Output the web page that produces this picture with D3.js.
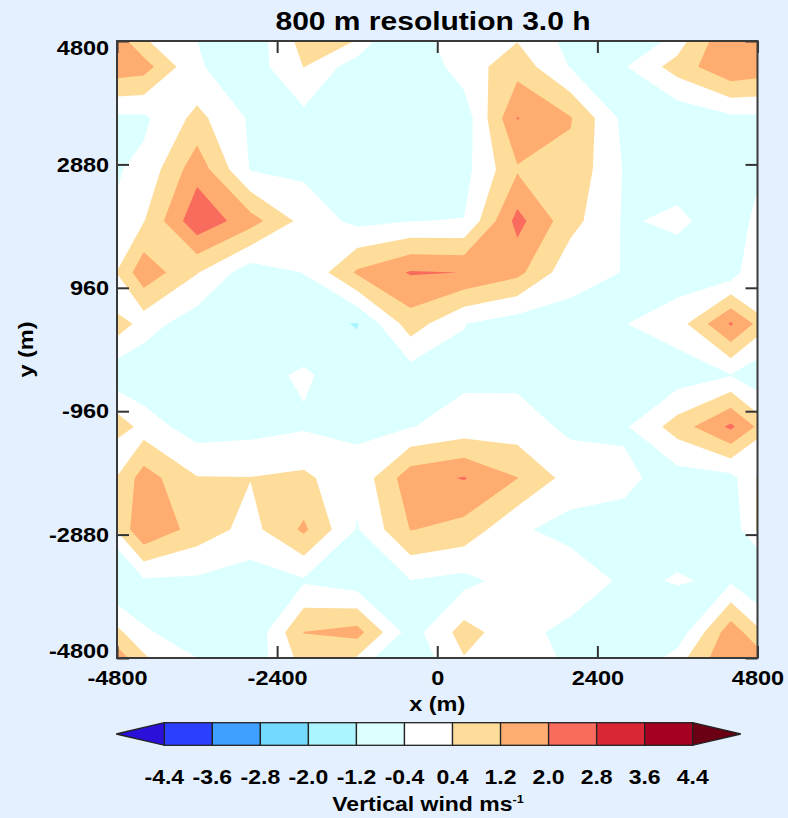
<!DOCTYPE html>
<html>
<head>
<meta charset="utf-8">
<script src="https://cdn.jsdelivr.net/npm/d3@7"></script>
<style>
  html, body { margin: 0; padding: 0; background: #e4f0fd; }
  svg { display: block; }
  text { font-family: "Liberation Sans", Arial, Helvetica, sans-serif; font-weight: bold; fill: #000; }
</style>
</head>
<body>
<svg id="chart" width="788" height="818"></svg>
<script>
// Grid-cell centres (m) of the 800 m model grid
const xCentres = [-4400, -3600, -2800, -2000, -1200, -400, 400, 1200, 2000, 2800, 3600, 4400];
const yCentres = [4400, 3600, 2800, 2000, 1200, 400, -400, -1200, -2000, -2800, -3600, -4400];

// Vertical wind (m s-1), one row per yCentres entry, one column per xCentres entry
const windRows = [
  [ 1.56, -0.32, -0.85,  0.42, -0.85, -1.14,  0.00,  0.87, -0.45, -0.47,  0.76,  1.89],
  [-0.55,  0.64, -0.51, -0.63, -0.95, -1.05, -0.88,  2.03,  1.25, -0.62, -1.00, -0.57],
  [-0.21,  1.70, -0.45, -0.57, -0.90, -0.95, -0.67,  1.11,  1.00, -0.45, -0.73, -0.70],
  [ 0.36,  2.59,  1.54,  0.13, -0.62, -0.41, -0.38,  2.27,  0.68, -0.48, -0.25, -0.80],
  [ 1.75,  0.45, -0.85, -0.38,  1.32,  2.07,  1.99,  1.44, -0.16, -0.42, -0.81, -0.87],
  [-0.05, -0.84, -0.90, -0.90, -1.25,  0.81, -0.38, -0.82, -0.64, -0.43,  0.02,  2.10],
  [-0.97, -0.80, -0.64, -0.30, -0.80, -0.82, -0.56, -0.59, -0.75, -0.75, -0.84, -0.44],
  [ 0.00, -0.79, -0.68, -0.49, -0.52, -0.43, -0.10, -0.05, -0.56, -0.52,  0.77,  2.16],
  [ 1.58,  0.44,  0.42,  0.57, -0.18,  1.68,  2.05,  1.22,  0.07, -0.21, -0.77, -0.67],
  [ 1.93,  0.86,  0.12,  1.35, -0.46,  1.23,  0.92, -0.27, -0.70, -0.69, -0.64, -0.95],
  [-0.52, -0.55, -0.76, -0.50, -0.88, -0.42, -0.65, -0.03,  0.15, -0.55, -0.35, -0.51],
  [-0.38, -0.48, -1.13,  1.22,  1.50, -0.77,  0.73, -0.12, -0.65, -0.75, -0.90,  1.68]
];

// Contour levels and fill colours (first = below lowest level, last = above highest)
const levels = [-4.4, -3.6, -2.8, -2.0, -1.2, -0.4, 0.4, 1.2, 2.0, 2.8, 3.6, 4.4];
const levelColors = ["#2a10d8", "#2b40ff", "#3fa0ff", "#74d9ff", "#aaf5ff", "#dcffff",
                     "#ffffff", "#fedd9a", "#feac6f", "#f86b5d", "#d92736", "#a50021", "#6b0015"];

const xTicks = [-4800, -2400, 0, 2400, 4800];
const yTicks = [-4800, -2880, -960, 960, 2880, 4800];
const domainMin = -4800, domainMax = 4800;

const titleText = "800 m resolution 3.0 h";
const xLabel = "x (m)";
const yLabel = "y (m)";
const barLabel = "Vertical wind ms";
const barLabelSup = "-1";

// ---- layout ----
const svg = d3.select("#chart");
const plot = { left: 117, right: 757.5, top: 41, bottom: 658 };
const x = d3.scaleLinear().domain([domainMin, domainMax]).range([plot.left, plot.right]);
const y = d3.scaleLinear().domain([domainMin, domainMax]).range([plot.bottom, plot.top]);
const stretch = "scale(1.12,1)";

// ---- periodic domain: add one wrapped row/column on every side ----
const nx = xCentres.length, ny = yCentres.length;
const px = nx + 2, py = ny + 2;
const grid = new Array(px * py);
for (let k = 0; k < py; k++) {
  const r = (k - 1 + ny) % ny;
  for (let m = 0; m < px; m++) {
    const c = (m - 1 + nx) % nx;
    grid[k * px + m] = windRows[r][c];
  }
}
const dxm = xCentres[1] - xCentres[0];
const dym = yCentres[0] - yCentres[1];
const gx0 = xCentres[0] - dxm;   // x of wrapped column
const gy0 = yCentres[0] + dym;   // y of wrapped row

// d3.contours puts node k at grid coordinate k + 0.5
const proj = d3.geoTransform({
  point(cx, cy) {
    this.stream.point(x(gx0 + (cx - 0.5) * dxm), y(gy0 - (cy - 0.5) * dym));
  }
});
const path = d3.geoPath(proj);
const bands = d3.contours().size([px, py]).thresholds(levels)(grid);

svg.append("defs").append("clipPath").attr("id", "plot-clip")
  .append("rect")
  .attr("x", plot.left).attr("y", plot.top)
  .attr("width", plot.right - plot.left).attr("height", plot.bottom - plot.top);

const fills = svg.append("g").attr("clip-path", "url(#plot-clip)");
fills.append("rect")
  .attr("x", plot.left).attr("y", plot.top)
  .attr("width", plot.right - plot.left).attr("height", plot.bottom - plot.top)
  .attr("fill", levelColors[0]);
fills.selectAll("path.band")
  .data(bands)
  .join("path")
  .attr("class", "band")
  .attr("d", path)
  .attr("fill", (d, i) => levelColors[i + 1]);

// ---- axes (ticks point inward on all four sides) ----
const tickLen = 12;
function styleAxis(g) {
  g.select(".domain").remove();
  g.selectAll(".tick line").attr("stroke", "#333").attr("stroke-width", 2);
  g.attr("font-size", null).attr("font-family", null);
}

const axB = svg.append("g")
  .attr("transform", `translate(0,${plot.bottom})`)
  .call(d3.axisBottom(x).tickValues(xTicks).tickFormat(d => String(d))
    .tickSizeInner(-tickLen).tickSizeOuter(0).tickPadding(12.5));
styleAxis(axB);
axB.selectAll(".tick text").attr("font-size", 21).attr("transform", stretch);

const axT = svg.append("g")
  .attr("transform", `translate(0,${plot.top})`)
  .call(d3.axisTop(x).tickValues(xTicks).tickFormat("")
    .tickSizeInner(-tickLen).tickSizeOuter(0));
styleAxis(axT);

const axL = svg.append("g")
  .attr("transform", `translate(${plot.left},0)`)
  .call(d3.axisLeft(y).tickValues(yTicks).tickFormat(d => String(d))
    .tickSizeInner(-tickLen).tickSizeOuter(0).tickPadding(7));
styleAxis(axL);
axL.selectAll(".tick text")
  .attr("font-size", 21)
  .attr("transform", d => {
    const shift = d === domainMax ? 7 : (d === domainMin ? -7 : 0);
    return `translate(0,${shift}) ${stretch}`;
  });

const axR = svg.append("g")
  .attr("transform", `translate(${plot.right},0)`)
  .call(d3.axisRight(y).tickValues(yTicks).tickFormat("")
    .tickSizeInner(-tickLen).tickSizeOuter(0));
styleAxis(axR);

// frame
svg.append("rect")
  .attr("x", plot.left).attr("y", plot.top)
  .attr("width", plot.right - plot.left).attr("height", plot.bottom - plot.top)
  .attr("fill", "none").attr("stroke", "#3a3a3a").attr("stroke-width", 2);

// ---- titles ----
svg.append("text")
  .attr("transform", `translate(433,29.5) scale(1.2,1)`)
  .attr("text-anchor", "middle").attr("font-size", 25)
  .text(titleText);

svg.append("text")
  .attr("transform", `translate(${(plot.left + plot.right) / 2},711) ${stretch}`)
  .attr("text-anchor", "middle").attr("font-size", 21)
  .text(xLabel);

svg.append("text")
  .attr("transform", `translate(33,${(plot.top + plot.bottom) / 2}) rotate(-90) ${stretch}`)
  .attr("text-anchor", "middle").attr("font-size", 21)
  .text(yLabel);

// ---- colour bar ----
const bar = { left: 164.3, right: 692.7, top: 722.7, bottom: 745.3 };
const cb = d3.scaleLinear().domain([levels[0], levels[levels.length - 1]]).range([bar.left, bar.right]);
const boxW = cb(levels[1]) - cb(levels[0]);
const midY = (bar.top + bar.bottom) / 2;
const gBar = svg.append("g");

gBar.selectAll("rect.box")
  .data(d3.pairs(levels))
  .join("rect")
  .attr("class", "box")
  .attr("x", d => cb(d[0]))
  .attr("y", bar.top)
  .attr("width", d => cb(d[1]) - cb(d[0]))
  .attr("height", bar.bottom - bar.top)
  .attr("fill", (d, i) => levelColors[i + 1])
  .attr("stroke", "#222").attr("stroke-width", 1.3);

const lo = cb(levels[0]), hi = cb(levels[levels.length - 1]);
gBar.append("path")
  .attr("d", `M${lo},${bar.top}L${lo - boxW},${midY}L${lo},${bar.bottom}Z`)
  .attr("fill", levelColors[0]).attr("stroke", "#222").attr("stroke-width", 1.3);
gBar.append("path")
  .attr("d", `M${hi},${bar.top}L${hi + boxW},${midY}L${hi},${bar.bottom}Z`)
  .attr("fill", levelColors[levelColors.length - 1]).attr("stroke", "#222").attr("stroke-width", 1.3);

gBar.selectAll("text.lev")
  .data(levels)
  .join("text")
  .attr("class", "lev")
  .attr("transform", d => `translate(${cb(d)},783.5) scale(1.15,1)`)
  .attr("text-anchor", "middle").attr("font-size", 20)
  .text(d => d.toFixed(1));

const cap = svg.append("text")
  .attr("transform", `translate(428,811) scale(1.15,1)`)
  .attr("text-anchor", "middle").attr("font-size", 20);
cap.append("tspan").text(barLabel);
cap.append("tspan").attr("font-size", 11).attr("dy", -8).text(barLabelSup);
</script>
</body>
</html>
